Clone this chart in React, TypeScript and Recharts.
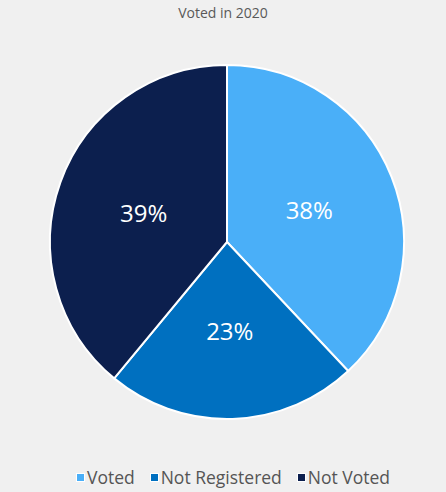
import React from 'react';
import { PieChart, Pie, Cell, Legend } from 'recharts';

const categories = ['Voted', 'Not Registered', 'Not Voted'];
const shares = [38, 23, 39];
const colors = ['#4aaff8', '#0070c0', '#0c1f4e'];

const data = categories.map((name, i) => ({ name, value: shares[i] }));

const RAD = Math.PI / 180;

const renderLabel = (props: any) => {
  const { cx, cy, midAngle, outerRadius, value } = props;
  const r = outerRadius * 0.5;
  const x = cx + r * Math.cos(-midAngle * RAD);
  const y = cy + r * Math.sin(-midAngle * RAD);
  return (
    <text x={x} y={y} fill="#ffffff" fontSize={24} textAnchor="middle" dominantBaseline="central">
      {`${value}%`}
    </text>
  );
};

// legend kept in data order, small squares with a white rim like the original
const renderLegend = () => (
  <div style={{ display: 'flex', justifyContent: 'center', fontSize: 17.5, color: '#555555' }}>
    {categories.map((name, i) => (
      <div key={name} style={{ display: 'flex', alignItems: 'center', marginRight: i < categories.length - 1 ? 15 : 0 }}>
        <span
          style={{
            display: 'inline-block',
            width: 7,
            height: 7,
            background: colors[i],
            border: '1px solid #ffffff',
            marginRight: 2,
          }}
        />
        <span>{name}</span>
      </div>
    ))}
  </div>
);

const App: React.FC = () => {
  return (
    <div
      style={{
        position: 'absolute',
        left: 0,
        top: 0,
        width: 446,
        height: 492,
        background: '#f0f0f0',
        fontFamily: '"Open Sans", sans-serif',
      }}
    >
      <div
        style={{
          position: 'absolute',
          top: 3,
          width: '100%',
          textAlign: 'center',
          fontSize: 14,
          color: '#595959',
        }}
      >
        Voted in 2020
      </div>
      <PieChart width={446} height={492} margin={{ top: 0, right: 0, bottom: 0, left: 0 }}>
        <Pie
          data={data}
          dataKey="value"
          nameKey="name"
          cx={227}
          cy={242}
          outerRadius={177}
          startAngle={90}
          endAngle={-270}
          stroke="#ffffff"
          strokeWidth={2}
          label={renderLabel}
          labelLine={false}
          isAnimationActive={false}
        >
          {data.map((d, i) => (
            <Cell key={d.name} fill={colors[i]} />
          ))}
        </Pie>
        <Legend verticalAlign="bottom" align="center" wrapperStyle={{ bottom: 3, left: 10 }} content={renderLegend} />
      </PieChart>
    </div>
  );
};

export default App;
